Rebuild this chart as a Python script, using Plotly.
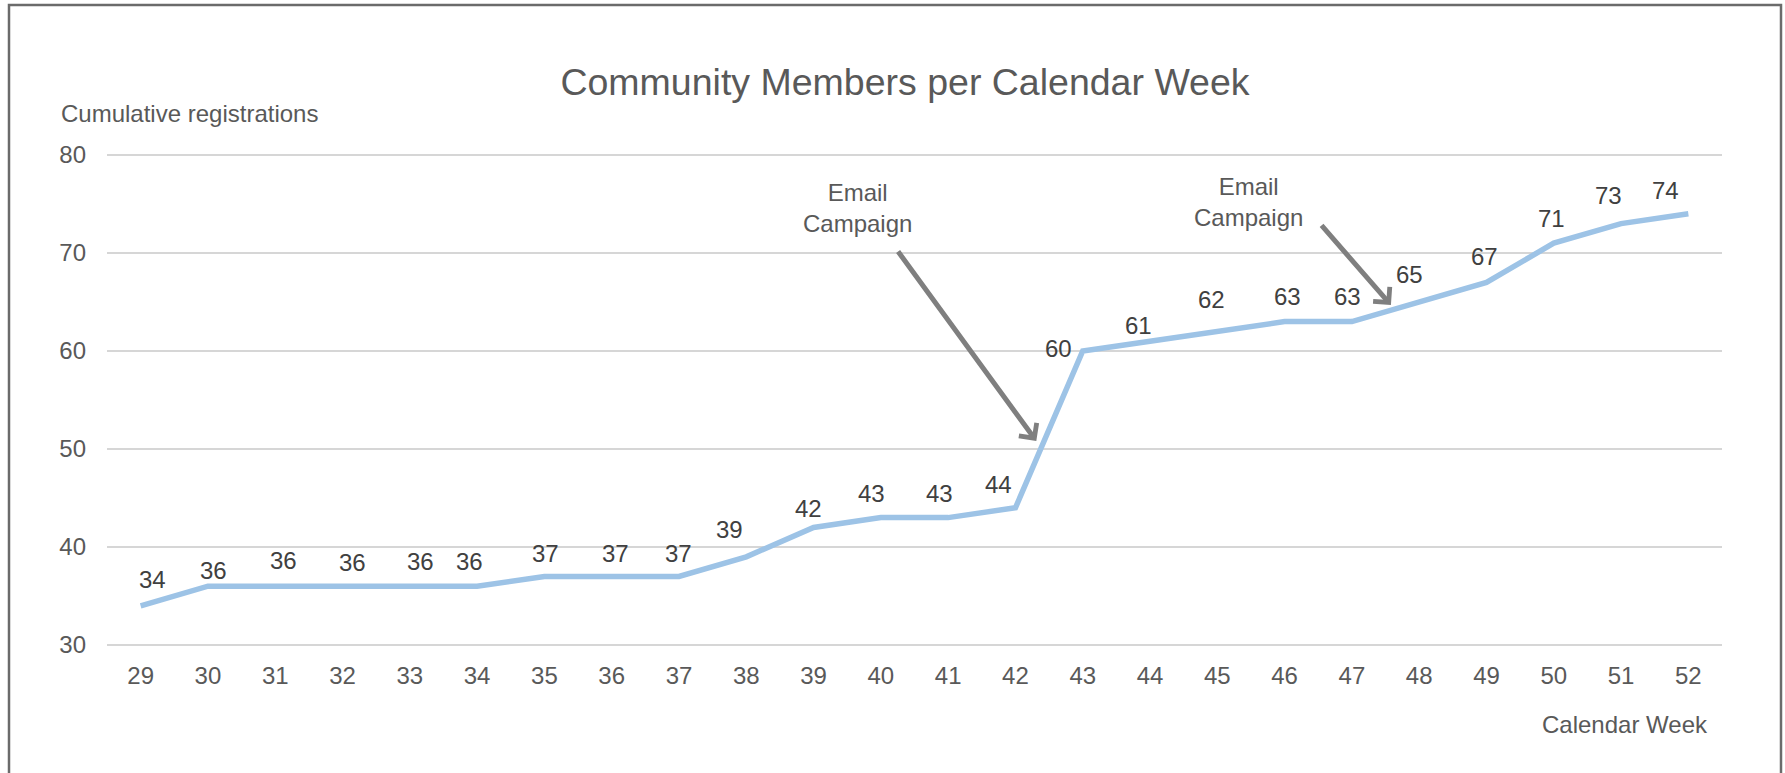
import plotly.graph_objects as go

# ---- data ----
weeks = list(range(29, 53))
members = [34, 36, 36, 36, 36, 36, 37, 37, 37, 39, 42, 43, 43, 44,
           60, 61, 62, 63, 63, 65, 67, 71, 73, 74]
y_ticks = [30, 40, 50, 60, 70, 80]

title_text = "Community Members per Calendar Week"
y_title = "Cumulative registrations"
x_title = "Calendar Week"
campaign_text = "Email<br>Campaign"

# ---- styling: pixel offsets of each value label from its point (dx right, dy up) ----
label_dx = [12, 6, 8, 10, 11, -8, 1, 4, 0, -17, -5, -9, -9, -17,
            -24, -12, -6, 3, -4, -10, -2, -2, -13, -23]
label_dy = [26, 16, 26, 24, 25, 25, 23, 23, 23, 27, 19, 24, 24, 23,
            2, 16, 32, 25, 25, 27, 26, 25, 28, 23]

# ---- layout geometry (pixels) ----
W, H = 1785, 773
L, R, T, B = 107, 63, 153, 126


def px_x(p):
    return (p - L) / (W - L - R)


def px_y(p):
    return (H - B - p) / (H - T - B)


FONT = "Liberation Sans, Arial, Helvetica, sans-serif"
GREY = "#595959"

fig = go.Figure()
fig.add_trace(go.Scatter(
    x=weeks, y=members,
    mode="lines",
    line=dict(color="#9DC3E6", width=5.5),
    hoverinfo="x+y",
    showlegend=False,
))

annotations = [
    dict(text=str(v), x=wk, y=v, xref="x", yref="y", showarrow=False,
         xanchor="center", yanchor="middle", xshift=dx, yshift=dy,
         font=dict(size=24, color="#404040", family=FONT))
    for wk, v, dx, dy in zip(weeks, members, label_dx, label_dy)
]

annotations += [
    dict(text=y_title, xref="paper", yref="paper", x=px_x(59), y=px_y(114),
         xanchor="left", yanchor="middle", showarrow=False,
         font=dict(size=24, color=GREY, family=FONT)),
    dict(text=x_title, xref="paper", yref="paper", x=px_x(1710), y=px_y(724),
         xanchor="right", yanchor="middle", showarrow=False,
         font=dict(size=24, color=GREY, family=FONT)),
    # campaign 1
    dict(text=campaign_text, x=39.65, y=74.6, xref="x", yref="y",
         showarrow=False, font=dict(size=24, color=GREY, family=FONT)),
    dict(text="", x=42.31, y=50.82, ax=40.24, ay=70.3, xref="x", yref="y",
         axref="x", ayref="y", showarrow=True, arrowhead=4, arrowsize=0.85,
         arrowwidth=5, arrowcolor="#7f7f7f"),
    # campaign 2
    dict(text=campaign_text, x=45.47, y=75.2, xref="x", yref="y",
         showarrow=False, font=dict(size=24, color=GREY, family=FONT)),
    dict(text="", x=47.58, y=64.69, ax=46.53, ay=72.96, xref="x", yref="y",
         axref="x", ayref="y", showarrow=True, arrowhead=4, arrowsize=0.85,
         arrowwidth=5, arrowcolor="#7f7f7f"),
]

fig.update_layout(
    width=W, height=H,
    margin=dict(l=L, r=R, t=T, b=B),
    paper_bgcolor="white", plot_bgcolor="white",
    font=dict(family=FONT, color=GREY),
    title=dict(text=title_text, x=905 / W, xref="container", xanchor="center",
               y=1 - 82 / H, yref="container", yanchor="middle",
               font=dict(size=37.5, color=GREY, family=FONT)),
    xaxis=dict(range=[28.5, 52.5], tickvals=weeks, ticktext=[str(w) for w in weeks],
               showgrid=False, zeroline=False, showline=False, ticks="",
               tickfont=dict(size=24, color=GREY, family=FONT),
               ticklabelstandoff=12, fixedrange=True),
    yaxis=dict(range=[29.8, 80.2], tickvals=y_ticks, showgrid=True,
               gridcolor="#d6d6d6", gridwidth=2, zeroline=False, showline=False,
               ticks="", tickfont=dict(size=24, color=GREY, family=FONT),
               ticklabelstandoff=20, fixedrange=True),
    annotations=annotations,
    shapes=[dict(type="rect", xref="paper", yref="paper",
                 x0=px_x(9), x1=px_x(1781), y0=px_y(800), y1=px_y(5),
                 line=dict(color="#6b6b6b", width=2.5), fillcolor="rgba(0,0,0,0)",
                 layer="above")],
)

fig.write_html("out.html", config={"displayModeBar": False},
               post_script="document.body.style.margin='0';document.body.style.overflow='hidden';")
